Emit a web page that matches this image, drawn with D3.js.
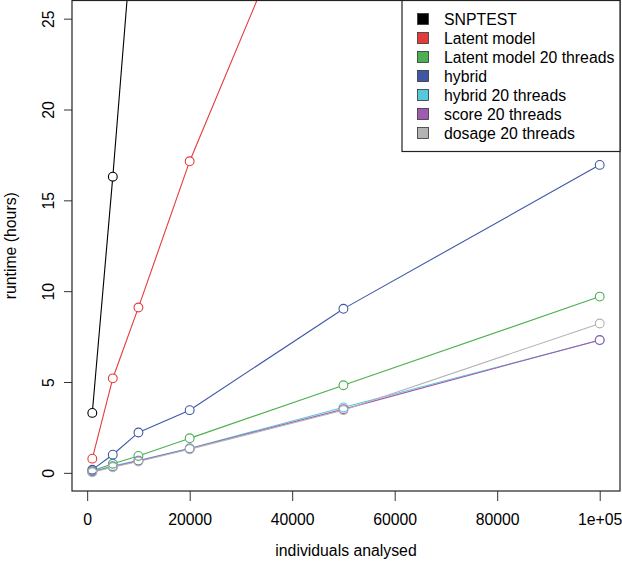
<!DOCTYPE html>
<html>
<head>
<meta charset="utf-8">
<script src="https://cdn.jsdelivr.net/npm/d3@7"></script>
<style>
  body { margin: 0; background: #fff; }
  svg { display: block; font-family: "Liberation Sans", Arial, sans-serif; }
</style>
</head>
<body>
<div id="chart"></div>
<script>
// sample sizes
const individuals = [1000, 5000, 10000, 20000, 50000, 100000];

// runtime in hours per method
const snptest     = [3.3, 16.3, 33.8];
const latent      = [0.78, 5.2, 9.1, 17.15, 37.4];
const latent20    = [0.12, 0.5, 0.93, 1.9, 4.82, 9.7];
const hybrid      = [0.17, 1.0, 2.22, 3.45, 9.03, 16.95];
const hybrid20    = [0.08, 0.38, 0.68, 1.35, 3.6, 7.3];
const score20     = [0.06, 0.34, 0.66, 1.33, 3.5, 7.31];
const dosage20    = [0.03, 0.31, 0.62, 1.3, 3.45, 8.22];

const seriesNames = ['SNPTEST', 'Latent model', 'Latent model 20 threads', 'hybrid',
                     'hybrid 20 threads', 'score 20 threads', 'dosage 20 threads'];
const seriesValues = [snptest, latent, latent20, hybrid, hybrid20, score20, dosage20];
const seriesColors = ['#000000', '#E33B3B', '#4CAF50', '#3F57A6', '#56C8DC', '#A05AAF', '#B3B3B3'];

const xTicks = [0, 20000, 40000, 60000, 80000, 100000];
const xTickLabels = ['0', '20000', '40000', '60000', '80000', '1e+05'];
const yTicks = [0, 5, 10, 15, 20, 25];
const yLimits = [0, 25];

const width = 622, height = 568;
const plot = { left: 72, right: 620, top: 0.5, bottom: 491 };
const fontSize = 15.8;

const svg = d3.select('#chart').append('svg')
    .attr('width', width)
    .attr('height', height);

// R style 4% padding on each side
const xExt = d3.extent(individuals);
const xPad = (xExt[1] - xExt[0]) * 0.04;
const yPad = (yLimits[1] - yLimits[0]) * 0.04;

const x = d3.scaleLinear()
    .domain([xExt[0] - xPad, xExt[1] + xPad])
    .range([plot.left, plot.right]);
const y = d3.scaleLinear()
    .domain([yLimits[0] - yPad, yLimits[1] + yPad])
    .range([plot.bottom, plot.top]);

svg.append('clipPath').attr('id', 'clip')
  .append('rect')
    .attr('x', plot.left).attr('y', plot.top)
    .attr('width', plot.right - plot.left)
    .attr('height', plot.bottom - plot.top);

// x axis
const xAxis = svg.append('g')
    .attr('transform', `translate(0,${plot.bottom})`)
    .call(d3.axisBottom(x).tickValues(xTicks)
        .tickFormat((d, i) => xTickLabels[i])
        .tickSize(10).tickPadding(13));
xAxis.select('.domain').remove();
xAxis.selectAll('line').attr('stroke', '#333');
xAxis.selectAll('text').attr('font-size', fontSize).attr('fill', '#000')
    .attr('font-family', '"Liberation Sans", Arial, sans-serif');

// y axis with rotated labels
const yAxis = svg.append('g')
    .attr('transform', `translate(${plot.left},0)`)
    .call(d3.axisLeft(y).tickValues(yTicks).tickSize(8).tickFormat(d3.format('d')));
yAxis.select('.domain').remove();
yAxis.selectAll('line').attr('stroke', '#333');
yAxis.selectAll('text')
    .attr('font-size', fontSize).attr('fill', '#000')
    .attr('font-family', '"Liberation Sans", Arial, sans-serif')
    .attr('x', null)
    .attr('text-anchor', 'middle')
    .attr('transform', 'translate(-24,0) rotate(-90)')
    .attr('dy', '0.35em');

// series: segments with gaps round the points (like type = "b")
const r = 4.4;
const layer = svg.append('g').attr('clip-path', 'url(#clip)');

seriesValues.forEach((vals, si) => {
    const pts = vals.map((v, i) => [x(individuals[i]), y(v)]);
    const segs = d3.pairs(pts).map(([a, b]) => {
        const dx = b[0] - a[0], dy = b[1] - a[1];
        const len = Math.hypot(dx, dy);
        const ux = dx / len, uy = dy / len;
        return [a[0] + ux * r, a[1] + uy * r, b[0] - ux * r, b[1] - uy * r];
    });
    const g = layer.append('g');
    g.selectAll('line')
        .data(segs)
        .join('line')
        .attr('x1', d => d[0]).attr('y1', d => d[1])
        .attr('x2', d => d[2]).attr('y2', d => d[3])
        .attr('stroke', seriesColors[si])
        .attr('stroke-width', 1.1);
    g.selectAll('circle')
        .data(pts)
        .join('circle')
        .attr('cx', d => d[0]).attr('cy', d => d[1])
        .attr('r', r)
        .attr('fill', 'none')
        .attr('stroke', seriesColors[si])
        .attr('stroke-width', 1.1);
});

// plot box
svg.append('rect')
    .attr('x', plot.left).attr('y', plot.top)
    .attr('width', plot.right - plot.left)
    .attr('height', plot.bottom - plot.top)
    .attr('fill', 'none')
    .attr('stroke', '#222')
    .attr('stroke-width', 1.2);

// legend, top right
const legend = { left: 402, top: 0.5, right: plot.right, bottom: 151.5, rowStart: 19, rowStep: 19 };
svg.append('rect')
    .attr('x', legend.left).attr('y', legend.top)
    .attr('width', legend.right - legend.left)
    .attr('height', legend.bottom - legend.top)
    .attr('fill', '#fff')
    .attr('stroke', '#222')
    .attr('stroke-width', 1.2);

const rows = svg.append('g').selectAll('g')
    .data(seriesNames)
    .join('g')
    .attr('transform', (d, i) => `translate(${legend.left},${legend.rowStart + i * legend.rowStep})`);
rows.append('rect')
    .attr('x', 15.5).attr('y', -5.5)
    .attr('width', 11).attr('height', 11)
    .attr('fill', (d, i) => seriesColors[i])
    .attr('stroke', '#333')
    .attr('stroke-width', 0.8);
rows.append('text')
    .attr('x', 42).attr('dy', '0.36em')
    .attr('font-size', fontSize)
    .text(d => d);

// axis titles
svg.append('text')
    .attr('x', (plot.left + plot.right) / 2).attr('y', 556)
    .attr('text-anchor', 'middle')
    .attr('font-size', fontSize)
    .text('individuals analysed');
svg.append('text')
    .attr('transform', `translate(16,${(plot.top + plot.bottom) / 2}) rotate(-90)`)
    .attr('text-anchor', 'middle')
    .attr('font-size', fontSize)
    .text('runtime (hours)');
</script>
</body>
</html>
